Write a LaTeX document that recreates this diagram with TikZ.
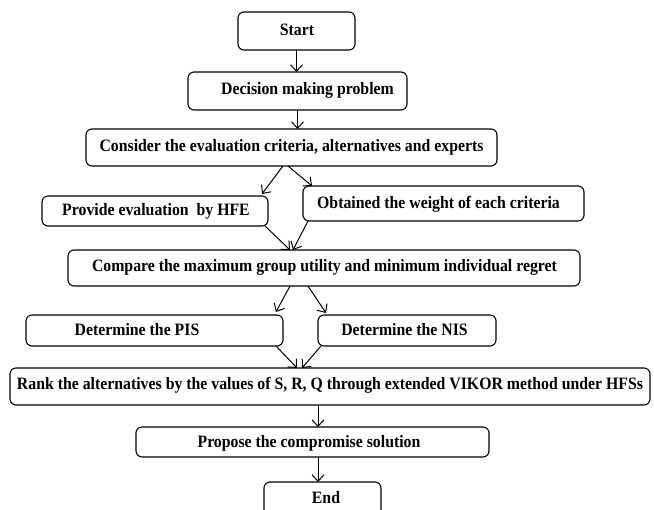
\documentclass[tikz,border=0pt]{standalone}
\usepackage{fontspec}
\setmainfont{Liberation Serif}
\usetikzlibrary{arrows.meta}
\newcommand\tallt[1]{\scalebox{1}[1.1]{#1}}
\begin{document}
\begin{tikzpicture}[x=1pt,y=-1pt,
  box/.style={draw, line width=1.1pt, rounded corners=6pt, rectangle, inner sep=0pt, outer sep=0pt},
  txt/.style={font=\fontsize{15.8}{18}\selectfont\bfseries, inner sep=0pt},
  arr/.style={line width=1pt, -{Straight Barb[length=6.5pt,width=12pt,line width=1pt]}}]
\useasboundingbox (0,0) rectangle (654,510);
\clip (0,0) rectangle (654,510);
% boxes
\node[box, minimum width=117pt, minimum height=38pt] (start) at (296.5,31) {};
\node[box, minimum width=219pt, minimum height=38pt] (dec) at (297.5,91) {};
\node[box, minimum width=411pt, minimum height=37pt] (cons) at (291.5,147.5) {};
\node[box, minimum width=226pt, minimum height=30pt] (prov) at (155,211) {};
\node[box, minimum width=281pt, minimum height=35pt] (obt) at (443.5,203.5) {};
\node[box, minimum width=512pt, minimum height=36pt] (comp) at (324,268) {};
\node[box, minimum width=257pt, minimum height=31pt] (pis) at (154.5,330.5) {};
\node[box, minimum width=178pt, minimum height=31pt] (nis) at (407,330.5) {};
\node[box, minimum width=640pt, minimum height=37pt] (rank) at (330,386.5) {};
\node[box, minimum width=353pt, minimum height=30pt] (prop) at (312.5,442) {};
\node[box, minimum width=117pt, minimum height=38pt] (end) at (322.5,501) {};
% texts
\node[txt] (tstart) at (297,30) {\tallt{Start}};
\node[txt] (tdec) at (307.5,90) {\tallt{Decision making problem}};
\node[txt] (tcons) at (291.5,147) {\tallt{Consider the evaluation criteria, alternatives and experts}};
\node[txt] (tprov) at (156,211) {\tallt{Provide evaluation\ \ by HFE}};
\node[txt] (tobt) at (438.5,204) {\tallt{Obtained the weight of each criteria}};
\node[txt] (tcomp) at (324.5,267) {\tallt{Compare the maximum group utility and minimum individual regret}};
\node[txt] (tpis) at (137,330) {\tallt{Determine the PIS}};
\node[txt] (tnis) at (404.5,330) {\tallt{Determine the NIS}};
\node[txt] (trank) at (330,385) {\tallt{Rank the alternatives by the values of S, R, Q through extended VIKOR method under HFSs}};
\node[txt] (tprop) at (309,443) {\tallt{Propose the compromise solution}};
\node[txt] (tend) at (326,498) {\tallt{End}};
% connectors
\draw[arr] (start.south) -- (start.south |- dec.north);
\draw[arr] (dec.south) -- (dec.south |- cons.north);
\draw[arr] ([xshift=-8.5pt]cons.south) -- ([xshift=-6pt,yshift=2pt]prov.north east);
\draw[arr] ([xshift=-3.5pt]cons.south) -- ([xshift=9pt]obt.north west);
\draw[arr] ([xshift=-3pt]prov.south east) -- ([xshift=-34pt]comp.north);
\draw[arr] ([xshift=5pt]obt.south west) -- ([xshift=-31pt]comp.north);
\draw[arr] ([xshift=-34pt]comp.south) -- ([xshift=-7pt,yshift=3pt]pis.north east);
\draw[arr] ([xshift=-16pt]comp.south) -- ([xshift=8pt,yshift=2pt]nis.north west);
\draw[arr] ([xshift=-7pt]pis.south east) -- ([xshift=-33pt]rank.north);
\draw[arr] ([xshift=3pt]nis.south west) -- ([xshift=-28pt]rank.north);
\draw[arr] ([xshift=-12pt]rank.south) -- ([xshift=-12pt]rank.south |- prop.north);
\draw[arr] ([xshift=5.5pt]prop.south) -- ([xshift=5.5pt]prop.south |- end.north);
\end{tikzpicture}
\end{document}
